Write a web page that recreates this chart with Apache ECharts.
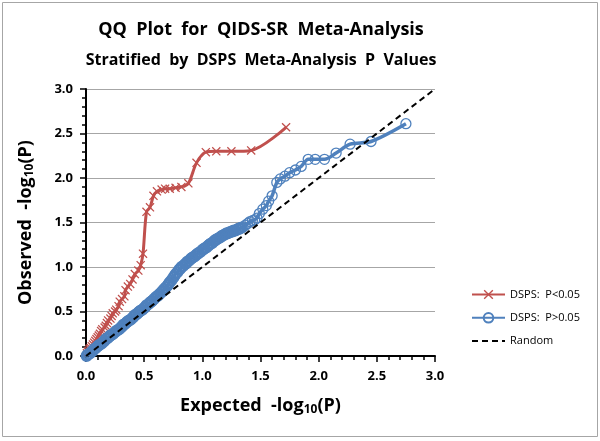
<!DOCTYPE html>
<html><head><meta charset="utf-8">
<script src="https://cdn.jsdelivr.net/npm/echarts@6/dist/echarts.min.js"></script>
<style>html,body{margin:0;padding:0;background:#fff}#c{width:600px;height:441px}</style>
</head><body><div id="c"></div>
<script>
// Expected / observed -log10(P), DSPS P<0.05 stratum
const redX = [1.72, 1.42, 1.25, 1.12, 1.03, 0.95, 0.88, 0.82, 0.77, 0.72, 0.68, 0.65, 0.61, 0.58, 0.55, 0.52, 0.49, 0.47, 0.45, 0.42, 0.40, 0.38, 0.36, 0.34, 0.33, 0.31, 0.29, 0.28, 0.26, 0.25, 0.23, 0.22, 0.21, 0.19, 0.18, 0.17, 0.16, 0.14, 0.13, 0.12, 0.11, 0.10, 0.09, 0.08, 0.07, 0.06, 0.05, 0.04, 0.03, 0.026, 0.017, 0.008];
const redY = [2.57, 2.31, 2.30, 2.30, 2.29, 2.17, 1.94, 1.90, 1.89, 1.88, 1.88, 1.87, 1.85, 1.80, 1.67, 1.62, 1.15, 1.02, 0.96, 0.92, 0.86, 0.81, 0.78, 0.74, 0.67, 0.64, 0.61, 0.56, 0.52, 0.50, 0.48, 0.45, 0.42, 0.40, 0.37, 0.34, 0.32, 0.30, 0.28, 0.25, 0.23, 0.21, 0.19, 0.17, 0.15, 0.13, 0.11, 0.09, 0.08, 0.06, 0.05, 0.03];
// DSPS P>0.05 stratum
const blueX = [2.75, 2.45, 2.27, 2.15, 2.05, 1.97, 1.91, 1.85, 1.80, 1.75, 1.71, 1.67, 1.64, 1.60, 1.57, 1.55, 1.52, 1.49, 1.47, 1.45, 1.43, 1.41, 1.39, 1.37, 1.35, 1.34,
  1.33, 1.32, 1.31, 1.30, 1.285, 1.27, 1.26, 1.25, 1.235, 1.22, 1.21, 1.20, 1.185, 1.17, 1.16, 1.15, 1.135, 1.12, 1.11, 1.10,
  1.085, 1.07, 1.06, 1.05, 1.035, 1.02, 1.01, 1.00, 0.985, 0.97, 0.96, 0.95, 0.935, 0.92, 0.91, 0.90,
  0.885, 0.87, 0.86, 0.85, 0.835, 0.82, 0.81, 0.80, 0.785, 0.77, 0.76, 0.75, 0.735, 0.72, 0.71, 0.70,
  0.685, 0.67, 0.66, 0.65, 0.635, 0.62, 0.61, 0.60, 0.585, 0.57, 0.56, 0.55, 0.535, 0.52, 0.51, 0.50,
  0.485, 0.47, 0.46, 0.45, 0.435, 0.42, 0.41, 0.40, 0.385, 0.37, 0.36, 0.35, 0.335, 0.32, 0.31, 0.30,
  0.285, 0.27, 0.26, 0.25, 0.235, 0.22, 0.21, 0.20, 0.185, 0.17, 0.16, 0.15, 0.135, 0.12, 0.11, 0.10,
  0.085, 0.07, 0.06, 0.05, 0.035, 0.02, 0.01, 0.005];
const blueY = [2.61, 2.41, 2.38, 2.28, 2.21, 2.21, 2.21, 2.13, 2.09, 2.06, 2.02, 1.99, 1.95, 1.80, 1.74, 1.69, 1.65, 1.60, 1.55, 1.53, 1.52, 1.51, 1.49, 1.47, 1.45, 1.44,
  1.44, 1.43, 1.43, 1.42, 1.41, 1.41, 1.40, 1.40, 1.39, 1.38, 1.38, 1.37, 1.36, 1.35, 1.34, 1.33, 1.32, 1.31, 1.30, 1.29,
  1.27, 1.26, 1.25, 1.24, 1.22, 1.21, 1.20, 1.19, 1.17, 1.16, 1.15, 1.14, 1.12, 1.11, 1.10, 1.09,
  1.07, 1.06, 1.04, 1.03, 1.01, 1.00, 0.98, 0.97, 0.94, 0.92, 0.90, 0.88, 0.85, 0.83, 0.81, 0.79,
  0.77, 0.75, 0.73, 0.72, 0.70, 0.68, 0.67, 0.66, 0.64, 0.62, 0.61, 0.60, 0.58, 0.57, 0.55, 0.54,
  0.52, 0.51, 0.50, 0.49, 0.47, 0.46, 0.44, 0.43, 0.41, 0.40, 0.39, 0.38, 0.36, 0.35, 0.33, 0.32,
  0.30, 0.29, 0.28, 0.27, 0.25, 0.24, 0.23, 0.22, 0.20, 0.19, 0.17, 0.16, 0.14, 0.13, 0.12, 0.11,
  0.09, 0.08, 0.06, 0.05, 0.03, 0.02, 0.01, 0.00];
const randomX = [0, 3];
const randomY = [0, 3];
const seriesNames = ['DSPS:  P<0.05', 'DSPS:  P>0.05', 'Random'];
const titleText = 'QQ  Plot  for  QIDS-SR  Meta-Analysis';
const subtitleText = 'Stratified  by  DSPS  Meta-Analysis  P  Values';

const FONT = '"Open Sans", "Noto Sans", sans-serif';
const zip = (a, b) => a.map((v, i) => [v, b[i]]);
const RED = '#C0504D', BLUE = '#4F81BD';
const crossPath = 'path://M0,1 L1,0 L5,4 L9,0 L10,1 L6,5 L10,9 L9,10 L5,6 L1,10 L0,9 L4,5 Z';

// dense part of the blue curve: slightly heavier circle outlines so the overlapping markers form a band
const blueData = zip(blueX, blueY).map((p, i) => i < 26 ? p : {value: p, itemStyle: {borderWidth: 2}});

const chart = echarts.init(document.getElementById('c'), null, {renderer: 'canvas'});
const axisCommon = {
  type: 'value', min: 0, max: 3, interval: 0.5,
  axisLine: {show: true, onZero: false, lineStyle: {color: '#000', width: 2}},
  axisTick: {show: true, length: 6, lineStyle: {color: '#000', width: 1.5}},
  minorTick: {show: true, splitNumber: 5, length: 4, lineStyle: {color: '#000', width: 1.5}},
  axisLabel: {color: '#000', fontWeight: 'bold', fontSize: 13, fontFamily: FONT, formatter: v => v.toFixed(1)},
  nameTextStyle: {color: '#000', fontWeight: 'bold', fontSize: 18, fontFamily: FONT,
    rich: {a: {fontSize: 18, fontWeight: 'bold', fontFamily: FONT, color: '#000'},
           s: {fontSize: 12, fontWeight: 'bold', fontFamily: FONT, color: '#000', verticalAlign: 'bottom', padding: [8, 0, 0, 0]}}},
  nameLocation: 'middle'
};
chart.setOption({
  animation: false,
  grid: {left: 86, right: 165, top: 89, bottom: 85, containLabel: false},
  xAxis: Object.assign({}, axisCommon, {
    name: '{a|Expected  -log}{s|10}{a|(P)}', nameGap: 40,
    splitLine: {show: false},
    axisLabel: Object.assign({}, axisCommon.axisLabel, {margin: 14})
  }),
  yAxis: Object.assign({}, axisCommon, {
    name: '{a|Observed  -log}{s|10}{a|(P)}', nameGap: 50, nameRotate: 90,
    splitLine: {show: true, lineStyle: {color: '#A6A6A6', width: 1}},
    axisLabel: Object.assign({}, axisCommon.axisLabel, {margin: 13})
  }),
  legend: {
    orient: 'vertical', left: 466, top: 284, itemWidth: 33, itemHeight: 12, itemGap: 12,
    textStyle: {fontSize: 11, fontFamily: FONT, color: '#000'},
    data: [seriesNames[0], seriesNames[1], {name: seriesNames[2], itemStyle: {opacity: 0}}]
  },
  graphic: [
    {type: 'rect', shape: {x: 2.5, y: 2.5, width: 595, height: 434}, style: {fill: 'none', stroke: '#A6A6A6', lineWidth: 1}, silent: true},
    {type: 'text', x: 261, y: 30, style: {text: titleText, fontSize: 18, fontWeight: 'bold', fontFamily: FONT, fill: '#000', textAlign: 'center', textVerticalAlign: 'middle'}},
    {type: 'text', x: 261, y: 60, style: {text: subtitleText, fontSize: 16, fontWeight: 'bold', fontFamily: FONT, fill: '#000', textAlign: 'center', textVerticalAlign: 'middle'}}
  ],
  series: [
    {name: seriesNames[0], type: 'line', smooth: 0.3, data: zip(redX, redY),
      symbol: crossPath, symbolSize: 9, showAllSymbol: true,
      itemStyle: {color: RED}, lineStyle: {color: RED, width: 3}, z: 2},
    {name: seriesNames[1], type: 'line', smooth: 0.3, data: blueData,
      symbol: 'circle', symbolSize: 10, showAllSymbol: true,
      itemStyle: {color: 'rgba(255,255,255,0)', borderColor: BLUE, borderWidth: 1.3},
      lineStyle: {color: BLUE, width: 3.5}, z: 3},
    {name: seriesNames[2], type: 'line', data: zip(randomX, randomY), symbol: 'none',
      itemStyle: {color: '#000'}, lineStyle: {color: '#000', width: 2, type: [6, 4]}, z: 4}
  ]
});
</script></body></html>
